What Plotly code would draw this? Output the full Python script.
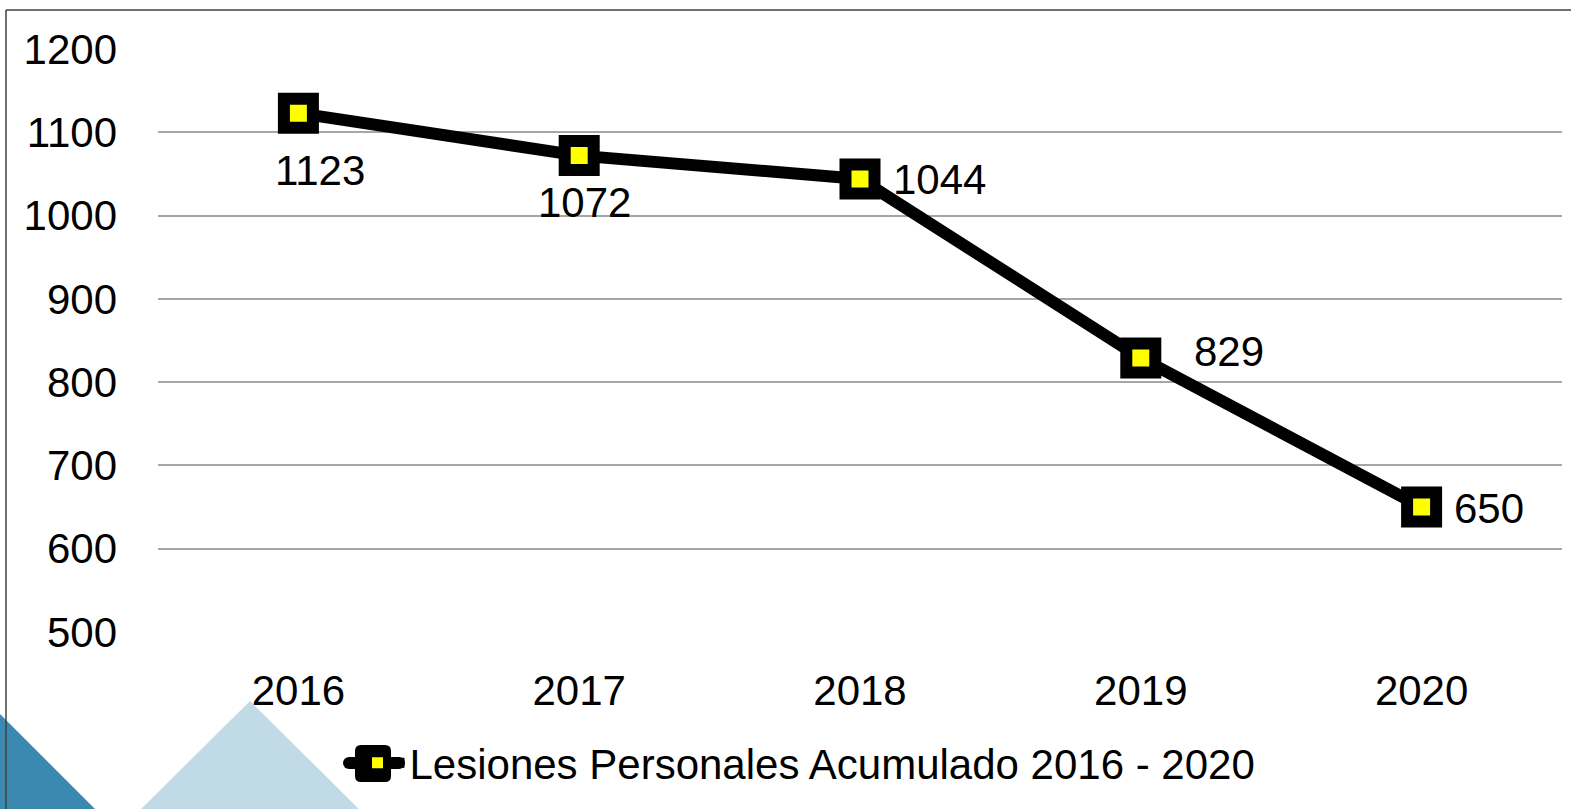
import plotly.graph_objects as go

years = ["2016", "2017", "2018", "2019", "2020"]
values = [1123, 1072, 1044, 829, 650]
series_name = "Lesiones Personales Acumulado 2016 - 2020"
y_ticks = [500, 600, 700, 800, 900, 1000, 1100, 1200]

# label offsets (style only), in px
label_dx = [22, 5, 79, 88, 67]
label_dy = [-57, -47, -1, 6, -1]

W, H = 1571, 809
L, R, T, B = 158, 9, 49, 177
PW, PH = W - L - R, H - T - B
FONT = "Arial, Liberation Sans, sans-serif"
FS = 42


def px(x):
    return (x - L) / PW


def py(y):
    return (H - B - y) / PH


def rounded_rect(x0, y0, x1, y1, r):
    return (f"M {px(x0 + r)} {py(y0)} L {px(x1 - r)} {py(y0)} "
            f"Q {px(x1)} {py(y0)} {px(x1)} {py(y0 + r)} L {px(x1)} {py(y1 - r)} "
            f"Q {px(x1)} {py(y1)} {px(x1 - r)} {py(y1)} L {px(x0 + r)} {py(y1)} "
            f"Q {px(x0)} {py(y1)} {px(x0)} {py(y1 - r)} L {px(x0)} {py(y0 + r)} "
            f"Q {px(x0)} {py(y0)} {px(x0 + r)} {py(y0)} Z")


fig = go.Figure()
fig.add_trace(go.Scatter(
    x=years, y=values, mode="lines+markers", name=series_name,
    line=dict(color="black", width=12),
    marker=dict(symbol="square", size=29, color="#ffff00",
                line=dict(color="black", width=12)),
    cliponaxis=False,
))

for i, (v, dx, dy) in enumerate(zip(values, label_dx, label_dy)):
    fig.add_annotation(x=i, y=v, xref="x", yref="y", text=str(v), showarrow=False,
                       xshift=dx, yshift=dy, xanchor="center", yanchor="middle",
                       font=dict(size=FS, color="black", family=FONT))

shapes = []
# decorative triangles
shapes.append(dict(type="path", xref="paper", yref="paper", layer="below",
                   path=f"M {px(-2)} {py(712)} L {px(98)} {py(812)} L {px(-2)} {py(812)} Z",
                   fillcolor="#3b88b1", line=dict(width=0)))
shapes.append(dict(type="path", xref="paper", yref="paper", layer="below",
                   path=f"M {px(250)} {py(701)} L {px(362)} {py(812)} L {px(138)} {py(812)} Z",
                   fillcolor="#c0dbe5", line=dict(width=0)))
# frame
shapes.append(dict(type="line", xref="paper", yref="paper",
                   x0=px(6), y0=py(10), x1=px(1575), y1=py(10),
                   line=dict(color="#404040", width=1.5)))
shapes.append(dict(type="line", xref="paper", yref="paper",
                   x0=px(6), y0=py(10), x1=px(6), y1=py(812),
                   line=dict(color="#404040", width=1.5)))
# enlarged legend symbol backing
shapes.append(dict(type="line", xref="paper", yref="paper",
                   x0=px(349), y0=py(763), x1=px(399), y1=py(763),
                   line=dict(color="black", width=12)))
shapes.append(dict(type="circle", xref="paper", yref="paper",
                   x0=px(343), y0=py(757), x1=px(355), y1=py(769),
                   fillcolor="black", line=dict(width=0)))
shapes.append(dict(type="circle", xref="paper", yref="paper",
                   x0=px(393), y0=py(757), x1=px(405), y1=py(769),
                   fillcolor="black", line=dict(width=0)))
shapes.append(dict(type="path", xref="paper", yref="paper",
                   path=rounded_rect(355, 745, 391, 782, 6),
                   fillcolor="black", line=dict(width=0)))

fig.update_layout(
    width=W, height=H,
    margin=dict(l=L, r=R, t=T, b=B),
    paper_bgcolor="white", plot_bgcolor="white",
    font=dict(family=FONT, size=FS, color="black"),
    shapes=shapes,
    showlegend=True,
    legend=dict(orientation="h", x=px(803), xanchor="center",
                y=py(763), yanchor="middle", itemwidth=54,
                font=dict(size=FS, family=FONT, color="black"),
                bgcolor="rgba(0,0,0,0)"),
    xaxis=dict(type="category", range=[-0.5, 4.5], showgrid=False, zeroline=False,
               showline=False, ticks="", ticklabelstandoff=30,
               tickfont=dict(size=FS, family=FONT, color="black")),
    yaxis=dict(range=[500, 1200], tickvals=y_ticks, showgrid=True,
               gridcolor="#a6a6a6", gridwidth=1.5, zeroline=False, showline=False,
               ticks="", ticklabelstandoff=40,
               tickfont=dict(size=FS, family=FONT, color="black")),
)

fig.write_html("out.html", config={"displayModeBar": False},
               post_script="document.body.style.margin='0';document.body.style.overflow='hidden';")
